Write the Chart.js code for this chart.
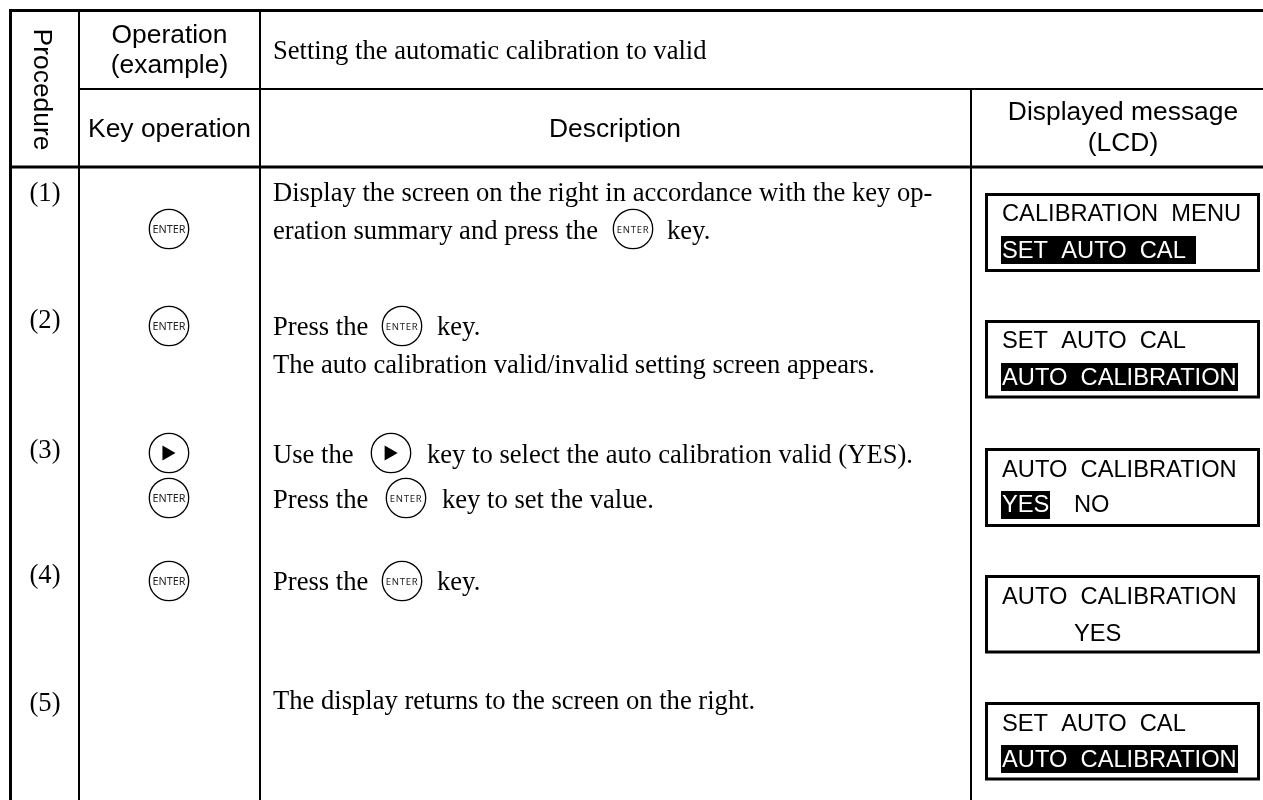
<!DOCTYPE html>
<html lang="en">
  <head>
    <meta charset="UTF-8" />
    <title>Setting the automatic calibration to valid</title>
    <script src="https://cdn.jsdelivr.net/npm/chart.js"></script>
    <style>
      body {
        margin: 0;
        background-color: #ffffff;
      }

      canvas#procedureChart {
        display: block;
      }
    </style>
  </head>
  <body>
    <canvas id="procedureChart" width="1263" height="800"></canvas>

    <script>
      // table text
      const sideLabel = "Procedure";
      const headerLabels = ["Operation", "(example)", "Key operation", "Description", "Displayed message", "(LCD)"];
      const operationTitle = "Setting the automatic calibration to valid";
      const rowLabels = ["(1)", "(2)", "(3)", "(4)", "(5)"];
      const descriptionLines = [
        "Display the screen on the right in accordance with the key op-",
        "eration summary and press the",
        "key.",
        "Press the",
        "key.",
        "The auto calibration valid/invalid setting screen appears.",
        "Use the",
        "key to select the auto calibration valid (YES).",
        "Press the",
        "key to set the value.",
        "Press the",
        "key.",
        "The display returns to the screen on the right.",
      ];
      const lcdLines = [
        "CALIBRATION  MENU",
        "SET  AUTO  CAL",
        "SET  AUTO  CAL",
        "AUTO  CALIBRATION",
        "AUTO  CALIBRATION",
        "YES",
        "NO",
        "AUTO  CALIBRATION",
        "YES",
        "SET  AUTO  CAL",
        "AUTO  CALIBRATION",
      ];
      const lcdInverted = [false, true, false, true, false, true, false, false, false, false, true];

      // where things sit on the page, in page units
      const headerPos = [[169.5, 43], [169.5, 73], [169.5, 137], [615, 137], [1123, 120], [1123, 151]];
      const rowLabelPos = [[45, 201], [45, 328], [45, 458], [45, 583], [45, 711]];
      const descriptionPos = [
        [273, 201], [273, 239], [667, 239], [273, 335], [437, 335], [273, 373],
        [273, 463], [427, 463], [273, 508], [442, 508], [273, 590], [437, 590], [273, 709],
      ];
      const lcdPos = [
        [1002, 221], [1002, 258], [1002, 348], [1002, 385], [1002, 477], [1002, 512],
        [1074, 512], [1002, 604], [1074, 641], [1002, 731], [1002, 767],
      ];
      const heavyRules = [
        [[10.5, 10.5], [10.5, 800]],
        [[9, 10.5], [1263, 10.5]],
        [[9, 167], [1263, 167]],
      ];
      const thinRules = [
        [[79, 10], [79, 800]],
        [[260, 10], [260, 800]],
        [[971, 89], [971, 800]],
        [[79, 89], [1263, 89]],
      ];
      const lcdBoxes = [
        [194.5, 270.5],
        [321.5, 397],
        [449.5, 525.5],
        [576.5, 652],
        [703.5, 779],
      ];
      const lcdHighlights = [
        [1001, 1196, 250],
        [1001, 1238, 377],
        [1001, 1050, 505],
        [1001, 1238, 759],
      ];
      const enterKeys = [[169, 229], [169, 326], [169, 498], [169, 581]];
      const enterKeysInline = [[633, 229], [402, 326], [406, 498], [402, 581]];
      const arrowKeys = [[169, 453], [391, 453]];
      const arrowMarks = [[166.8, 453], [389, 453]];

      const serif = '"Liberation Serif", serif';
      const sans = '"Liberation Sans", sans-serif';

      function toPoints(pairs) {
        return pairs.map((p) => ({ x: p[0], y: p[1] }));
      }

      function ruleDataset(pairs, width) {
        return {
          type: "scatter",
          data: toPoints(pairs),
          showLine: true,
          borderColor: "#000000",
          borderWidth: width,
          borderCapStyle: "butt",
          borderJoinStyle: "miter",
          pointRadius: 0,
          clip: false,
        };
      }

      function boxDataset(box) {
        const pairs = [
          [986.5, box[0]],
          [1258.5, box[0]],
          [1258.5, box[1]],
          [986.5, box[1]],
          [986.5, box[0]],
          [1258.5, box[0]],
        ];
        return ruleDataset(pairs, 3);
      }

      function keyDataset(pairs) {
        return {
          type: "scatter",
          data: toPoints(pairs),
          pointStyle: "circle",
          pointRadius: 19.7,
          pointBorderWidth: 1.3,
          pointBorderColor: "#000000",
          pointBackgroundColor: "#ffffff",
          clip: false,
        };
      }

      const datasets = [
        {
          type: "scatter",
          data: toPoints(arrowMarks),
          pointStyle: "triangle",
          rotation: 90,
          pointRadius: 8.7,
          pointBorderWidth: 0,
          pointBackgroundColor: "#000000",
          clip: false,
        },
        keyDataset(enterKeys),
        keyDataset(enterKeysInline),
        keyDataset(arrowKeys),
      ];
      heavyRules.forEach((r) => datasets.push(ruleDataset(r, 3)));
      thinRules.forEach((r) => datasets.push(ruleDataset(r, 2)));
      lcdBoxes.forEach((b) => datasets.push(boxDataset(b)));
      lcdHighlights.forEach((h) => datasets.push(ruleDataset([[h[0], h[2]], [h[1], h[2]]], 28)));

      // the table text goes on top of the marks
      const tableText = {
        id: "tableText",
        afterDatasetsDraw(chart) {
          const ctx = chart.ctx;
          const px = (v) => chart.scales.x.getPixelForValue(v);
          const py = (v) => chart.scales.y.getPixelForValue(v);

          function put(text, pos, font, align, color, spacing) {
            ctx.font = font;
            ctx.textAlign = align;
            ctx.textBaseline = "alphabetic";
            ctx.fillStyle = color || "#000000";
            ctx.letterSpacing = spacing || "0px";
            ctx.fillText(text, px(pos[0]), py(pos[1]));
          }

          ctx.save();
          headerLabels.forEach((t, i) => put(t, headerPos[i], "26.4px " + sans, "center"));
          put(operationTitle, [273, 59], "26.6px " + serif, "left");
          rowLabels.forEach((t, i) => put(t, rowLabelPos[i], "26.6px " + serif, "center"));
          descriptionLines.forEach((t, i) => put(t, descriptionPos[i], "26.6px " + serif, "left"));
          lcdLines.forEach((t, i) =>
            put(t, lcdPos[i], "23.7px " + sans, "left", lcdInverted[i] ? "#ffffff" : "#000000")
          );
          enterKeys.forEach((k) =>
            put("ENTER", [k[0], k[1] + 4], '10.8px "Noto Sans", sans-serif', "center", "#222222")
          );
          enterKeysInline.forEach((k) =>
            put("ENTER", [k[0], k[1] + 3.5], '9.5px "Noto Sans", sans-serif', "center", "#222222", "0.7px")
          );

          ctx.translate(px(34), py(89.5));
          ctx.rotate(Math.PI / 2);
          ctx.font = "26.4px " + sans;
          ctx.textAlign = "center";
          ctx.fillStyle = "#000000";
          ctx.letterSpacing = "0px";
          ctx.fillText(sideLabel, 0, 0);
          ctx.restore();
        },
      };

      new Chart(document.getElementById("procedureChart"), {
        type: "scatter",
        data: { datasets: datasets },
        plugins: [tableText],
        options: {
          responsive: false,
          animation: false,
          events: [],
          layout: { padding: 0, autoPadding: false },
          plugins: {
            legend: { display: false },
            title: { display: false },
            tooltip: { enabled: false },
          },
          scales: {
            x: { type: "linear", min: 0, max: 1263, display: false },
            y: { type: "linear", min: 0, max: 800, reverse: true, display: false },
          },
        },
      });
    </script>
  </body>
</html>
